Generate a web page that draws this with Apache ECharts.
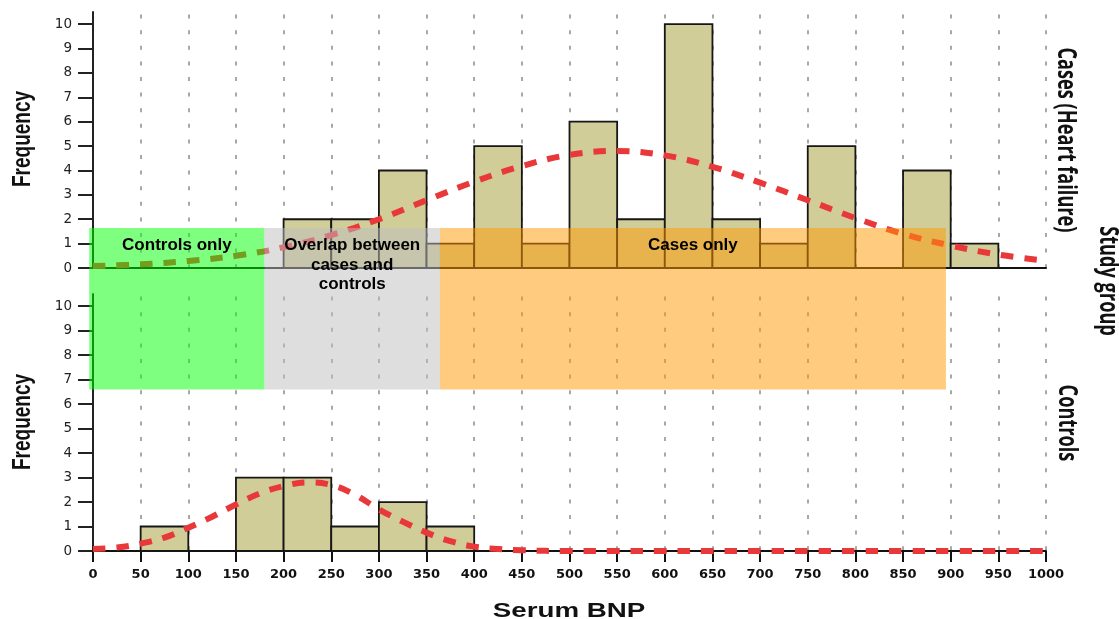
<!DOCTYPE html>
<html>
<head>
<meta charset="utf-8">
<script src="https://cdn.jsdelivr.net/npm/echarts@6/dist/echarts.min.js"></script>
<style>html,body{margin:0;padding:0;background:#fff;}#c{width:1119px;height:619px;}</style>
</head>
<body>
<div id="c"></div>
<script>
// ---- data ----
const binStarts = [0,50,100,150,200,250,300,350,400,450,500,550,600,650,700,750,800,850,900,950];
const binWidth = 50;
const caseCounts    = [0,0,0,0,2,2,4,1,5,1,6,2,10,2,1,5,0,4,1,0];
const controlCounts = [0,1,0,3,3,1,2,1,0,0,0,0,0,0,0,0,0,0,0,0];

const caseCurveX = [0,50,100,150,200,250,300,350,400,450,500,550,600,650,700,750,800,850,900,950,1000];
const caseCurveY = [0.08,0.15,0.29,0.5,0.85,1.35,2.0,2.78,3.54,4.18,4.64,4.8,4.62,4.15,3.5,2.78,2.05,1.4,0.92,0.55,0.3];

const controlCurveX = [0,25,50,75,100,125,150,175,200,225,250,275,300,325,350,375,400,425,450,500,550,600,650,700,750,800,850,900,950,1000];
const controlCurveY = [0.08,0.14,0.3,0.55,0.95,1.4,1.9,2.35,2.65,2.8,2.7,2.3,1.7,1.2,0.75,0.4,0.18,0.08,0.03,0,0,0,0,0,0,0,0,0,0,0];

const xTicks = [0,50,100,150,200,250,300,350,400,450,500,550,600,650,700,750,800,850,900,950,1000];
const yTicks = [0,1,2,3,4,5,6,7,8,9,10];

const regionStarts = [-4, 180, 364];
const regionEnds   = [180, 364, 895];
const regionLabels = ['Controls only', 'Overlap between\ncases and\ncontrols', 'Cases only'];
const regionTopValue = 1.64;    // in top (cases) panel
const regionBottomValue = 6.6;  // in bottom (controls) panel
const regionLabelValue = 1;     // label first line, top panel

// ---- chart ----
const chart = echarts.init(document.getElementById('c'), null, {renderer:'canvas'});

const barColor = '#d1cd98';
const curveColor = '#e8383a';
const gridLine = {show:true, showMinLine:false, showMaxLine:true,
  lineStyle:{color:'#a8a8a8', width:2, type:[4,11.6], dashOffset:13}};

function hist(starts, counts){
  return starts.map((s,i)=>[s, s+binWidth, counts[i]]);
}
function pairs(xs, ys){ return xs.map((x,i)=>[x, ys[i]]); }

function renderBar(params, api){
  const c = api.value(2);
  if (!c) return null;
  const p0 = api.coord([api.value(0), 0]);
  const p1 = api.coord([api.value(1), c]);
  return {type:'rect', shape:{x:p0[0], y:p1[1], width:p1[0]-p0[0], height:p0[1]-p1[1]},
    style:{fill:barColor, stroke:'#161616', lineWidth:1.8}};
}

function yAxisCfg(gi){
  return {gridIndex:gi, type:'value', min:0, max:10.5, interval:1,
    axisLine:{show:true, lineStyle:{color:'#222', width:2}},
    axisTick:{show:true, length:15, customValues:yTicks, lineStyle:{color:'#222', width:2}},
    axisLabel:{customValues:yTicks, margin:21, fontFamily:'DejaVu Sans', fontSize:13.5, color:'#222'},
    splitLine:{show:false}};
}

const option = {
  animation:false,
  backgroundColor:'#fff',
  grid:[
    {left:93, right:73, top:12, height:256},
    {left:93, right:73, top:294, height:257}
  ],
  xAxis:[
    {gridIndex:0, type:'value', min:0, max:1000, interval:50,
     axisLine:{show:true, onZero:false, lineStyle:{color:'#111', width:2}},
     axisTick:{show:false}, axisLabel:{show:false}, splitLine:gridLine},
    {gridIndex:1, type:'value', min:0, max:1000, interval:50,
     axisLine:{show:true, onZero:false, lineStyle:{color:'#111', width:2}},
     axisTick:{show:true, length:11, lineStyle:{color:'#111', width:2}},
     axisLabel:{show:true, interval:0, margin:17, fontFamily:'DejaVu Sans', fontWeight:'bold', fontSize:13, color:'#111',
       customValues:xTicks, formatter:(v)=>String(v)},
     splitLine:gridLine}
  ],
  yAxis:[yAxisCfg(0), yAxisCfg(1)],
  series:[
    {type:'custom', name:'Cases', xAxisIndex:0, yAxisIndex:0, renderItem:renderBar,
     encode:{x:[0,1], y:2}, data:hist(binStarts, caseCounts), z:2},
    {type:'custom', name:'Controls', xAxisIndex:1, yAxisIndex:1, renderItem:renderBar,
     encode:{x:[0,1], y:2}, data:hist(binStarts, controlCounts), z:2},
    {type:'line', name:'Cases fit', xAxisIndex:0, yAxisIndex:0, data:pairs(caseCurveX, caseCurveY),
     smooth:0.4, symbol:'none', z:3,
     lineStyle:{color:curveColor, width:6, type:[12.5,11], cap:'butt'}},
    {type:'line', name:'Controls fit', xAxisIndex:1, yAxisIndex:1, data:pairs(controlCurveX, controlCurveY),
     smooth:0.4, symbol:'none', z:3,
     lineStyle:{color:curveColor, width:6, type:[12.5,11], cap:'butt'}}
  ]
};
chart.setOption(option);

// ---- overlays & titles (positions from the axes' scales) ----
const regionColors = ['rgba(0,255,0,0.5)', 'rgba(190,190,190,0.5)', 'rgba(255,153,0,0.5)'];
const graphics = [];
regionStarts.forEach((s,i)=>{
  const tl = chart.convertToPixel({gridIndex:0}, [s, regionTopValue]);
  const br = chart.convertToPixel({gridIndex:1}, [regionEnds[i], regionBottomValue]);
  graphics.push({type:'rect', z:100, shape:{x:tl[0], y:tl[1], width:br[0]-tl[0], height:br[1]-tl[1]},
    style:{fill:regionColors[i]}});
  const ly = chart.convertToPixel({gridIndex:0}, [0, regionLabelValue])[1];
  graphics.push({type:'text', z:101, x:(tl[0]+br[0])/2, y:ly-8,
    style:{text:regionLabels[i], align:'center', verticalAlign:'top', lineHeight:19.5,
      font:'bold 17px "Liberation Sans", Arial, sans-serif', fill:'#000'}});
});
const title = (txt, x, y, rot, font, sx, sy) => ({type:'text', z:50, x, y, rotation:rot, scaleX:sx, scaleY:sy,
  style:{text:txt, align:'center', verticalAlign:'middle', font, fill:'#111'}});
const freqFont = 'bold 19px "Liberation Sans", Arial, sans-serif';
const grpFont = 'bold 18.2px "Open Sans", sans-serif';
graphics.push(title('Frequency', 23, 139, Math.PI/2, freqFont, 1, 1.35));
graphics.push(title('Frequency', 23, 422, Math.PI/2, freqFont, 1, 1.35));
graphics.push(title('Cases (Heart failure)', 1066, 140, -Math.PI/2, grpFont, 1, 1.5));
graphics.push(title('Controls', 1067, 423, -Math.PI/2, grpFont, 1, 1.5));
graphics.push(title('Study group', 1108, 281, -Math.PI/2, grpFont, 1, 1.5));
graphics.push(title('Serum BNP', 569, 611, 0, 'bold 21px "Liberation Sans", Arial, sans-serif', 1.32, 1));
chart.setOption({graphic:graphics});
</script>
</body>
</html>
